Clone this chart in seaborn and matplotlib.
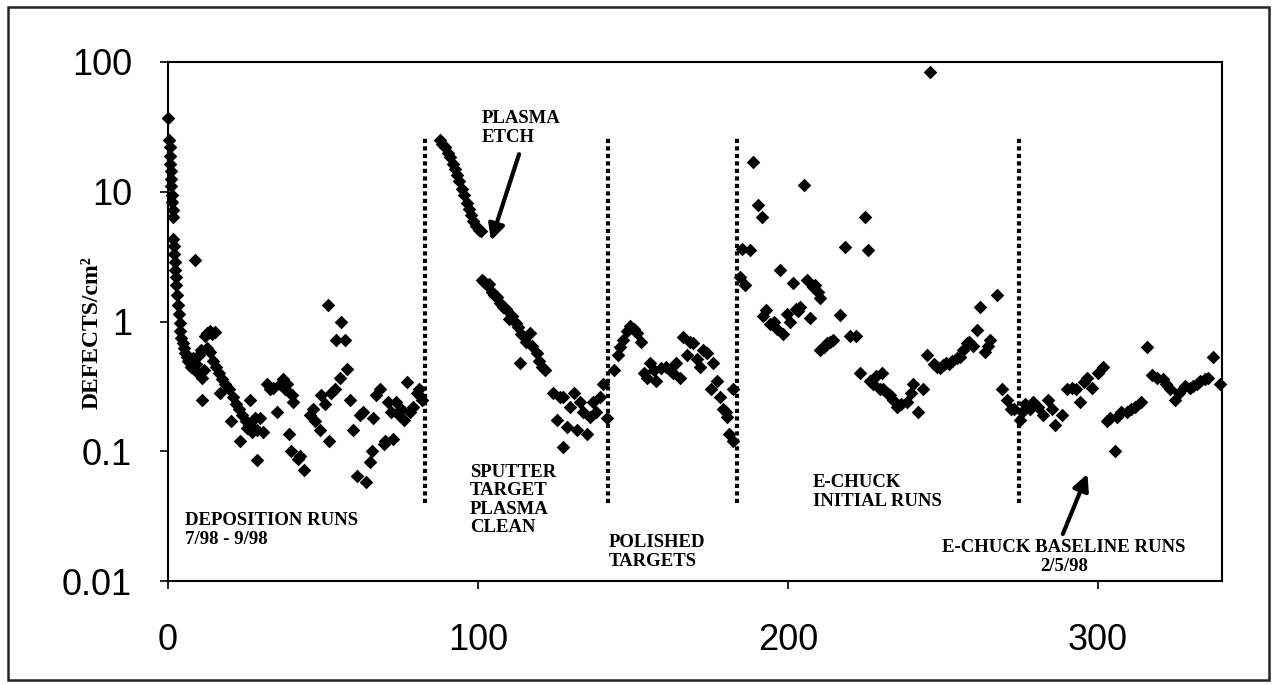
import numpy as np
import pandas as pd
import seaborn as sns
import matplotlib.pyplot as plt
from matplotlib.patches import Rectangle
from matplotlib.ticker import NullLocator

# --- data (run number, defects/cm2) ---
# deposition runs 7/98 - 9/98
dep_x = [0.0, 0.3, 0.5, 0.5, 0.7, 0.8, 1.0, 1.0, 1.2, 1.3, 1.5, 1.5,
         1.6, 1.8, 2.0, 2.1, 2.3, 2.5, 2.7, 2.9, 3.2, 3.4, 3.7, 4.0,
         4.3, 4.7, 5.0, 5.5, 6.0, 6.5, 7.0, 7.5, 8.0, 8.5, 9.0, 9.5,
         10.0, 10.5, 11.0, 11.5, 12.0, 12.7, 13.4, 14.2, 15.0, 12.5, 13.5,
         14.5, 15.5, 16.5, 17.5, 10.9, 16.8, 8.7,
         18.5, 19.5, 20.4, 21.0, 22.0, 23.0, 23.2, 24.0, 25.0, 25.4, 26.0,
         26.5, 27.0, 28.0, 28.6, 28.6, 29.7, 30.5,
         31.8, 33.0, 34.0, 35.0, 36.0, 37.0, 37.7, 38.5, 39.9, 40.4, 38.9,
         39.5, 41.9, 44.0, 42.5,
         45.8, 46.8, 47.5, 48.9, 49.4, 50.5, 52.0, 51.6, 52.5, 54.0, 55.9,
         54.3, 57.0, 55.5, 57.6, 58.7, 59.8,
         60.9, 62.0, 63.0, 64.0, 65.0, 65.8, 66.0, 67.0, 68.4, 69.5, 71.0,
         72.0, 72.7, 73.6, 74.5, 76.0, 77.0, 78.0, 79.0, 80.2, 81.0, 82.0,
         75.0, 70.0]
dep_y = [37, 25, 22, 19, 16.5, 14.5, 12.5, 11, 9.5, 8.3, 7.2, 6.4,
         4.3, 3.8, 3.3, 2.9, 2.5, 2.2, 1.9, 1.6, 1.35, 1.15, 0.97, 0.85,
         0.75, 0.68, 0.62, 0.57, 0.53, 0.5, 0.48, 0.45, 0.52, 0.43, 0.47, 0.4,
         0.55, 0.6, 0.37, 0.42, 0.78, 0.82, 0.85, 0.8, 0.83, 0.62, 0.58,
         0.5, 0.45, 0.4, 0.36, 0.25, 0.28, 3.0,
         0.33, 0.3, 0.17, 0.26, 0.23, 0.21, 0.12, 0.19, 0.17, 0.15, 0.16,
         0.25, 0.14, 0.18, 0.085, 0.146, 0.18, 0.14,
         0.33, 0.3, 0.31, 0.2, 0.33, 0.36, 0.3, 0.33, 0.27, 0.24, 0.137,
         0.1, 0.087, 0.072, 0.092,
         0.19, 0.21, 0.17, 0.146, 0.27, 0.23, 0.12, 1.35, 0.28, 0.3, 1.0,
         0.72, 0.72, 0.37, 0.43, 0.25, 0.146,
         0.065, 0.19, 0.2, 0.058, 0.083, 0.1, 0.18, 0.27, 0.3, 0.114, 0.24,
         0.2, 0.124, 0.24, 0.19, 0.175, 0.34, 0.2, 0.22, 0.28, 0.3, 0.25,
         0.21, 0.12]

# plasma etch + sputter target plasma clean
clean_x = [87.7, 88.5, 89.3, 90.2, 91.0, 91.8, 92.6, 93.3, 94.0, 94.7, 95.5,
           96.3, 97.0, 97.7, 98.5, 99.3, 100.2, 101.0,
           101.2, 102.0, 102.8, 103.6, 104.5, 105.3, 106.0, 107.0, 108.0,
           109.0, 110.0, 111.0, 112.3, 113.0, 114.0, 113.5, 115.5, 116.6,
           117.5, 118.9, 119.8, 120.7, 121.6,
           124.3, 125.4, 126.3, 127.5, 127.5, 128.7, 129.5, 130.8, 131.9,
           133.0, 134.0, 135.0, 136.0, 137.0, 138.0, 139.3, 140.3, 141.5]
clean_y = [25, 23.5, 22, 20, 18.5, 16.5, 15, 13.5, 12, 10.5, 9.5,
           8.2, 7.3, 6.6, 5.9, 5.4, 5.1, 5.0,
           2.1, 2.0, 1.9, 1.95, 1.7, 1.6, 1.55, 1.4, 1.3,
           1.25, 1.05, 1.1, 0.97, 0.9, 0.8, 0.48, 0.69, 0.81,
           0.65, 0.57, 0.5, 0.45, 0.42,
           0.28, 0.175, 0.26, 0.26, 0.108, 0.155, 0.22, 0.28, 0.146,
           0.24, 0.2, 0.137, 0.185, 0.24, 0.2, 0.26, 0.33, 0.18]

# polished targets
pol_x = [143.7, 145.0, 145.8, 146.9, 148.0, 149.0, 150.2, 151.2, 152.5, 153.5,
         154.4, 155.5, 156.6, 157.5, 159.0, 160.5, 162.0, 163.0, 164.0, 165.0,
         166.2, 167.5, 168.5, 169.4, 170.5, 171.5, 172.5, 173.8, 175.0, 175.9,
         177.0, 178.0, 179.0, 180.2, 181.0, 182.3, 182.3, 180.0]
pol_y = [0.42, 0.55, 0.64, 0.72, 0.85, 0.92, 0.88, 0.81, 0.7, 0.4,
         0.37, 0.48, 0.42, 0.35, 0.44, 0.45, 0.42, 0.4, 0.48, 0.37,
         0.76, 0.55, 0.7, 0.68, 0.51, 0.45, 0.6, 0.57, 0.3, 0.48,
         0.35, 0.26, 0.21, 0.185, 0.137, 0.12, 0.3, 0.2]

# e-chuck initial runs
init_x = [184.5, 185.0, 186.0, 187.7, 188.8, 190.4, 191.5, 192.0, 193.0, 194.2,
          195.5, 196.5, 197.4, 198.5, 199.5, 200.6, 201.6, 202.5, 203.3, 204.0,
          205.2, 206.0, 207.0, 208.0, 208.7, 209.5, 210.3, 210.3, 211.5, 212.5,
          213.5, 214.5, 216.8, 218.4, 220.0, 222.0, 223.2, 224.8, 225.9, 226.5,
          227.5, 228.5, 229.5, 230.2, 230.7, 232.0, 232.9, 234.0, 235.0, 236.5,
          238.3, 239.5, 240.4, 242.0, 243.6, 244.7, 245.8, 247.0, 248.0, 249.0,
          250.0, 251.0, 252.0, 253.0, 254.5, 255.5, 256.5, 257.6, 258.5, 259.5,
          260.9, 262.0, 263.5, 264.5, 265.2, 267.3, 269.0, 270.5, 272.0, 273.0]
init_y = [2.2, 3.6, 1.9, 3.55, 17, 7.9, 6.4, 1.1, 1.23, 0.95,
          1.0, 0.88, 2.5, 0.8, 1.15, 1.0, 1.98, 1.25, 1.2, 1.3,
          11.3, 2.08, 1.06, 1.85, 1.9, 1.7, 1.52, 0.6, 0.64, 0.68,
          0.7, 0.72, 1.13, 3.77, 0.78, 0.77, 0.4, 6.4, 3.55, 0.35,
          0.33, 0.38, 0.3, 0.4, 0.3, 0.28, 0.27, 0.25, 0.22, 0.23,
          0.24, 0.28, 0.33, 0.2, 0.3, 0.55, 84, 0.47, 0.45, 0.44,
          0.46, 0.48, 0.47, 0.5, 0.52, 0.53, 0.6, 0.68, 0.7, 0.65,
          0.86, 1.3, 0.58, 0.65, 0.72, 1.6, 0.3, 0.25, 0.21, 0.21]

# e-chuck baseline runs 2/5/98
base_x = [274.8, 275.5, 276.5, 278.0, 279.0, 280.5, 282.3, 284.0, 285.0, 286.0,
          288.3, 289.9, 291.5, 293.0, 294.2, 295.5, 296.3, 298.0, 300.0, 301.7,
          302.8, 304.0, 305.5, 306.0, 307.5, 309.2, 310.5, 312.0, 314.0, 315.7,
          317.3, 319.0, 321.0, 322.0, 323.2, 324.8, 326.0, 328.0, 329.5, 330.7,
          332.0, 333.0, 334.5, 335.5, 337.2, 339.4]
base_y = [0.175, 0.2, 0.23, 0.21, 0.24, 0.22, 0.19, 0.25, 0.21, 0.16,
          0.19, 0.3, 0.31, 0.3, 0.24, 0.34, 0.37, 0.31, 0.4, 0.45,
          0.17, 0.18, 0.1, 0.185, 0.2, 0.2, 0.21, 0.22, 0.24, 0.64,
          0.39, 0.37, 0.36, 0.33, 0.3, 0.25, 0.28, 0.32, 0.31, 0.32,
          0.33, 0.35, 0.36, 0.37, 0.53, 0.33]

phase_lines = [83, 142, 183.5, 274.5]
x_ticks = [0, 100, 200, 300]
y_ticks = [0.01, 0.1, 1, 10, 100]
y_tick_labels = ['0.01', '0.1', '1', '10', '100']

df = pd.concat([
    pd.DataFrame({'run': dep_x, 'defects': dep_y}),
    pd.DataFrame({'run': clean_x, 'defects': clean_y}),
    pd.DataFrame({'run': pol_x, 'defects': pol_y}),
    pd.DataFrame({'run': init_x, 'defects': init_y}),
    pd.DataFrame({'run': base_x, 'defects': base_y}),
], ignore_index=True)

sns.set_style('ticks')
plt.rcParams['font.family'] = ['Liberation Sans', 'DejaVu Sans']

fig = plt.figure(figsize=(12.77, 6.85), dpi=100)
ax = fig.add_axes([0.1316, 0.1518, 0.8254, 0.7577])

sns.scatterplot(data=df, x='run', y='defects', marker='D', s=48, color='black',
                linewidth=0, legend=False, clip_on=False, zorder=3, ax=ax)

ax.set_yscale('log')
ax.set_ylim(0.01, 100)
ax.set_xlim(0, 340)
ax.set_yticks(y_ticks)
ax.set_yticklabels(y_tick_labels)
ax.yaxis.set_minor_locator(NullLocator())
ax.set_xticks(x_ticks)
ax.set_xticklabels([str(t) for t in x_ticks])
ax.tick_params(axis='both', labelsize=26, length=6, width=1.2, color='black',
               labelcolor='black')
ax.tick_params(axis='y', pad=20)
ax.tick_params(axis='x', pad=24)
ax.set_xlabel('')
ax.set_ylabel('DEFECTS/cm²', family='Liberation Serif', weight='bold', fontsize=17,
              color='black')
ax.yaxis.set_label_coords(-0.062, 0.478)
for sp in ax.spines.values():
    sp.set_visible(True)
    sp.set_linewidth(1.5)
    sp.set_color('black')

ax.vlines(phase_lines, 0.04, 27, colors='black', linestyles=[(0, (1, 0.8))],
          lw=3, zorder=2)

serif = dict(family='Liberation Serif', weight='bold', fontsize=13.5,
             linespacing=1.12, color='black')
ax.text(5.5, 0.0247, 'DEPOSITION RUNS\n7/98 - 9/98', va='center', ha='left', **serif)
ax.text(97.4, 0.042, 'SPUTTER\nTARGET\nPLASMA\nCLEAN', va='center', ha='left', **serif)
ax.text(142, 0.0168, 'POLISHED\nTARGETS', va='center', ha='left', **serif)
ax.text(208, 0.0485, 'E-CHUCK\nINITIAL RUNS', va='center', ha='left', **serif)
ax.text(289, 0.0153, 'E-CHUCK BASELINE RUNS\n2/5/98', va='center', ha='center',
        multialignment='center', **serif)
ax.text(101.2, 31, 'PLASMA\nETCH', va='center', ha='left', **serif)

arrow = dict(arrowstyle='-|>', color='black', lw=3, mutation_scale=24)
ax.annotate('', xy=(103.9, 4.0), xytext=(113.5, 20.4), arrowprops=arrow)
ax.annotate('', xy=(296.9, 0.07), xytext=(288.3, 0.022), arrowprops=arrow)

fig.patches.append(Rectangle((0.006, 0.008), 0.988, 0.982, transform=fig.transFigure,
                             fill=False, edgecolor='#222222', lw=1.8))

fig.savefig('out.png', dpi=100)
